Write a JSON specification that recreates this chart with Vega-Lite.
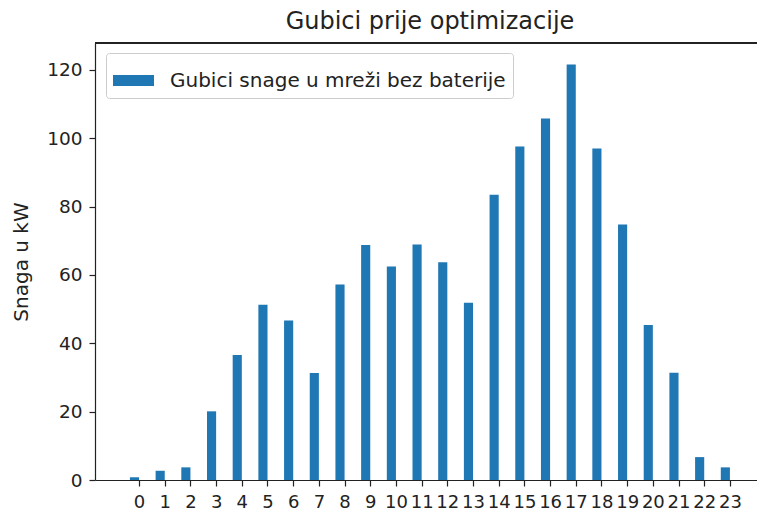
{
  "$schema": "https://vega.github.io/schema/vega-lite/v6.json",
  "width": 662,
  "height": 437,
  "autosize": {"type": "none"},
  "padding": {"left": 95, "top": 43, "right": 0, "bottom": 35},
  "background": "white",
  "config": {
    "font": "DejaVu Sans",
    "view": {"stroke": null},
    "axis": {"labelFont": "DejaVu Sans", "titleFont": "DejaVu Sans", "labelColor": "#222", "titleColor": "#222", "domainColor": "#222", "tickColor": "#222", "grid": false}
  },
  "title": {"text": "Gubici prije optimizacije", "fontSize": 24, "fontWeight": "normal", "color": "#222", "anchor": "middle", "offset": 8, "dx": 4},
  "data": {
    "values": [
      {"sat": 0, "snaga": 0.8, "serija": "Gubici snage u mreži bez baterije"},
      {"sat": 1, "snaga": 2.7, "serija": "Gubici snage u mreži bez baterije"},
      {"sat": 2, "snaga": 3.7, "serija": "Gubici snage u mreži bez baterije"},
      {"sat": 3, "snaga": 20.1, "serija": "Gubici snage u mreži bez baterije"},
      {"sat": 4, "snaga": 36.6, "serija": "Gubici snage u mreži bez baterije"},
      {"sat": 5, "snaga": 51.3, "serija": "Gubici snage u mreži bez baterije"},
      {"sat": 6, "snaga": 46.7, "serija": "Gubici snage u mreži bez baterije"},
      {"sat": 7, "snaga": 31.3, "serija": "Gubici snage u mreži bez baterije"},
      {"sat": 8, "snaga": 57.2, "serija": "Gubici snage u mreži bez baterije"},
      {"sat": 9, "snaga": 68.8, "serija": "Gubici snage u mreži bez baterije"},
      {"sat": 10, "snaga": 62.5, "serija": "Gubici snage u mreži bez baterije"},
      {"sat": 11, "snaga": 68.9, "serija": "Gubici snage u mreži bez baterije"},
      {"sat": 12, "snaga": 63.7, "serija": "Gubici snage u mreži bez baterije"},
      {"sat": 13, "snaga": 51.9, "serija": "Gubici snage u mreži bez baterije"},
      {"sat": 14, "snaga": 83.5, "serija": "Gubici snage u mreži bez baterije"},
      {"sat": 15, "snaga": 97.6, "serija": "Gubici snage u mreži bez baterije"},
      {"sat": 16, "snaga": 105.8, "serija": "Gubici snage u mreži bez baterije"},
      {"sat": 17, "snaga": 121.6, "serija": "Gubici snage u mreži bez baterije"},
      {"sat": 18, "snaga": 97.0, "serija": "Gubici snage u mreži bez baterije"},
      {"sat": 19, "snaga": 74.8, "serija": "Gubici snage u mreži bez baterije"},
      {"sat": 20, "snaga": 45.4, "serija": "Gubici snage u mreži bez baterije"},
      {"sat": 21, "snaga": 31.4, "serija": "Gubici snage u mreži bez baterije"},
      {"sat": 22, "snaga": 6.7, "serija": "Gubici snage u mreži bez baterije"},
      {"sat": 23, "snaga": 3.7, "serija": "Gubici snage u mreži bez baterije"}
    ]
  },
  "layer": [
    {
      "mark": {"type": "bar", "width": 9.13, "xOffset": -4.56, "clip": true},
      "encoding": {
        "x": {
          "field": "sat",
          "type": "quantitative",
          "scale": {"domain": [-1.52, 23.86], "nice": false, "zero": false},
          "axis": {"values": [0,1,2,3,4,5,6,7,8,9,10,11,12,13,14,15,16,17,18,19,20,21,22,23], "format": "d", "title": null, "labelFontSize": 18, "tickSize": 6, "labelPadding": 7, "labelFlush": false, "labelOverlap": false, "domainWidth": 1.2, "tickWidth": 1.2}
        },
        "y": {
          "field": "snaga",
          "type": "quantitative",
          "scale": {"domain": [0, 127.9], "nice": false},
          "axis": {"values": [0, 20, 40, 60, 80, 100, 120], "title": "Snaga u kW", "titleFontSize": 20, "titleFontWeight": "normal", "titlePadding": 15, "labelFontSize": 18.5, "tickSize": 6, "labelPadding": 7, "domainWidth": 1.2, "tickWidth": 1.2}
        },
        "color": {
          "field": "serija",
          "type": "nominal",
          "scale": {"range": ["#1f77b4"]},
          "legend": {
            "title": null,
            "orient": "none",
            "legendX": 11,
            "legendY": 10,
            "fillColor": "white",
            "strokeColor": "#cccccc",
            "cornerRadius": 3,
            "padding": 7,
            "labelFontSize": 20,
            "labelLimit": 500,
            "labelColor": "#222",
            "labelFont": "DejaVu Sans",
            "symbolType": "M-1,-0.27H1V0.27H-1Z",
            "symbolSize": 1681,
            "symbolStrokeWidth": 0,
            "symbolOpacity": 1,
            "labelOffset": 16
          }
        }
      }
    },
    {
      "mark": {"type": "rule", "color": "#222", "strokeWidth": 1.2},
      "encoding": {
        "y": {"datum": 127.9}
      }
    }
  ]
}
